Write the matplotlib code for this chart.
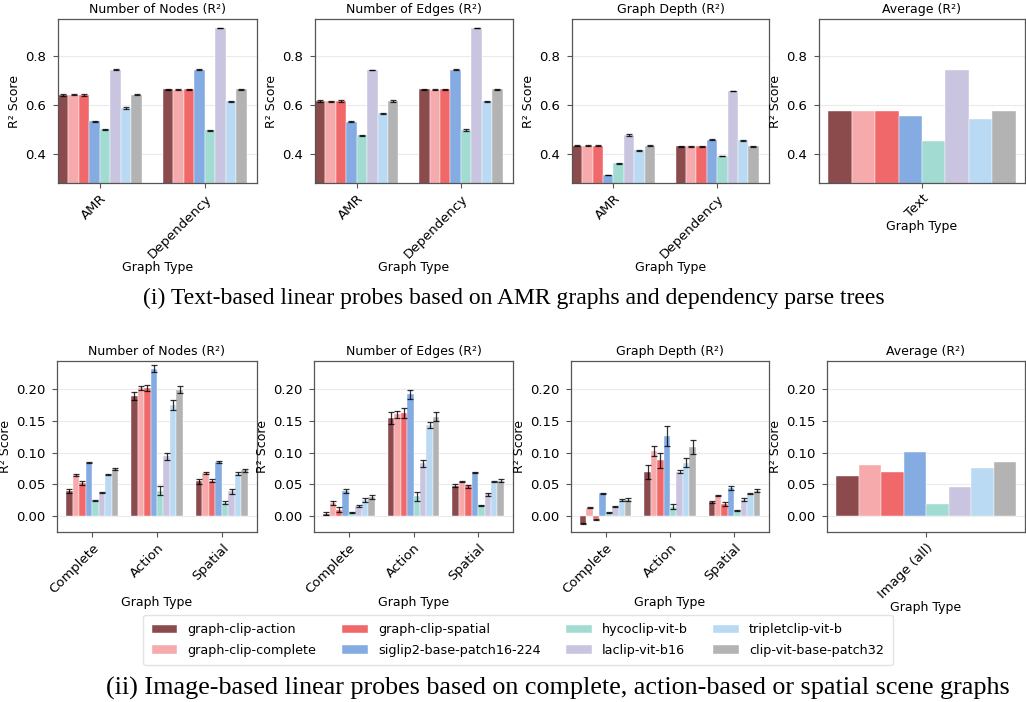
import matplotlib
matplotlib.use("Agg")
import matplotlib.pyplot as plt
import numpy as np

# các mô hình và màu tương ứng
models = ["graph-clip-action", "graph-clip-complete", "graph-clip-spatial", "siglip2-base-patch16-224",
          "hycoclip-vit-b", "laclip-vit-b16", "tripletclip-vit-b", "clip-vit-base-patch32"]
colors = ["#8b4a4c", "#f7aaac", "#f0686a", "#84ace2", "#a2dbd1", "#c9c5e1", "#b9daf2", "#b3b3b3"]

# hàng trên: đồ thị từ văn bản
text_types = ["AMR", "Dependency"]
text_nodes = [[0.641, 0.641, 0.641, 0.533, 0.501, 0.745, 0.587, 0.641],
              [0.664, 0.663, 0.664, 0.745, 0.497, 0.915, 0.614, 0.664]]
text_nodes_err = [[0.003, 0.002, 0.003, 0.003, 0.002, 0.002, 0.003, 0.002],
                  [0.001, 0.001, 0.001, 0.004, 0.002, 0.001, 0.002, 0.001]]
text_edges = [[0.616, 0.615, 0.616, 0.532, 0.476, 0.743, 0.565, 0.616],
              [0.664, 0.663, 0.664, 0.745, 0.497, 0.915, 0.615, 0.664]]
text_edges_err = [[0.003, 0.003, 0.003, 0.003, 0.002, 0.002, 0.002, 0.003],
                  [0.001, 0.001, 0.001, 0.004, 0.003, 0.001, 0.002, 0.001]]
text_depth = [[0.433, 0.433, 0.433, 0.312, 0.360, 0.477, 0.415, 0.433],
              [0.430, 0.430, 0.430, 0.458, 0.390, 0.657, 0.455, 0.430]]
text_depth_err = [[0.002, 0.003, 0.003, 0.001, 0.002, 0.003, 0.002, 0.003],
                  [0.001, 0.001, 0.001, 0.002, 0.001, 0.001, 0.001, 0.001]]
text_avg_label = ["Text"]
text_avg = [0.575, 0.574, 0.575, 0.554, 0.453, 0.742, 0.542, 0.575]

# hàng dưới: scene graph từ ảnh
image_types = ["Complete", "Action", "Spatial"]
image_nodes = [[0.040, 0.065, 0.052, 0.084, 0.024, 0.037, 0.065, 0.074],
               [0.189, 0.201, 0.202, 0.232, 0.040, 0.094, 0.175, 0.199],
               [0.055, 0.068, 0.056, 0.085, 0.021, 0.039, 0.067, 0.072]]
image_nodes_err = [[0.003, 0.002, 0.003, 0.001, 0.001, 0.001, 0.001, 0.001],
                   [0.006, 0.003, 0.005, 0.005, 0.007, 0.005, 0.008, 0.005],
                   [0.004, 0.002, 0.003, 0.002, 0.002, 0.004, 0.002, 0.002]]
image_edges = [[0.004, 0.021, 0.010, 0.040, 0.006, 0.016, 0.025, 0.030],
               [0.154, 0.160, 0.162, 0.192, 0.031, 0.083, 0.143, 0.156],
               [0.048, 0.054, 0.047, 0.069, 0.017, 0.034, 0.054, 0.056]]
image_edges_err = [[0.003, 0.003, 0.004, 0.003, 0.001, 0.001, 0.003, 0.003],
                   [0.009, 0.006, 0.008, 0.007, 0.007, 0.005, 0.005, 0.007],
                   [0.002, 0.001, 0.002, 0.001, 0.001, 0.003, 0.001, 0.002]]
image_depth = [[-0.012, 0.013, -0.005, 0.036, 0.006, 0.015, 0.025, 0.026],
               [0.070, 0.103, 0.088, 0.126, 0.015, 0.070, 0.084, 0.109],
               [0.022, 0.032, 0.019, 0.044, 0.009, 0.026, 0.035, 0.040]]
image_depth_err = [[0.001, 0.001, 0.001, 0.001, 0.001, 0.001, 0.002, 0.002],
                   [0.011, 0.008, 0.012, 0.016, 0.004, 0.002, 0.007, 0.011],
                   [0.002, 0.001, 0.003, 0.003, 0.001, 0.002, 0.001, 0.002]]
image_avg_label = ["Image (all)"]
image_avg = [0.063, 0.080, 0.070, 0.101, 0.019, 0.046, 0.075, 0.085]

titles = ["Number of Nodes (R²)", "Number of Edges (R²)", "Graph Depth (R²)", "Average (R²)"]

plt.rcParams["font.family"] = "DejaVu Sans"
plt.rcParams["font.size"] = 9

fig = plt.figure(figsize=(10.26, 7.02), dpi=100)

W, H = 1026, 702
def px_axes(x0, x1, y0, y1):
    return fig.add_axes([x0 / W, 1 - y1 / H, (x1 - x0) / W, (y1 - y0) / H])


# Hàm vẽ nhóm cột cho một panel
def draw_panel(ax, groups, values, errors, title, ylim, yticks, xlim=None):
    width = 0.1
    x = np.arange(len(groups))
    for i, name in enumerate(models):
        vals = [v[i] for v in values]
        kw = {}
        if errors is not None:
            kw = dict(yerr=[e[i] for e in errors], capsize=2,
                      error_kw=dict(elinewidth=0.9, capthick=0.9, ecolor="black", alpha=0.8))
        ax.bar(x - 0.35 + i * width, vals, width, color=colors[i], edgecolor="white",
               linewidth=0.3, label=name, zorder=2, **kw)
    ax.set_xticks(x)
    ax.set_xticklabels(groups, rotation=45, ha="right", rotation_mode="anchor", fontsize=9.5)
    ax.set_ylim(*ylim)
    ax.set_yticks(yticks)
    if xlim is not None:
        ax.set_xlim(*xlim)
    ax.grid(axis="y", color="#ebebeb", linewidth=0.8, zorder=0)
    ax.set_axisbelow(True)
    ax.set_title(title, fontsize=9, pad=4)
    ax.set_xlabel("Graph Type", fontsize=9, labelpad=0)
    ax.set_ylabel("R² Score", fontsize=9, labelpad=3)
    for s in ax.spines.values():
        s.set_color("#555555")
        s.set_linewidth(0.9)
    ax.tick_params(length=3.5, width=0.8, color="#555555")
    ax.tick_params(axis="y", labelsize=9.5, pad=5)
    ax.tick_params(axis="x", pad=3)


top_ylim = (0.28, 0.952)
top_ticks = [0.4, 0.6, 0.8]
top_axes = [px_axes(58, 257, 19, 183), px_axes(315, 513, 19, 183),
            px_axes(572, 769, 19, 183), px_axes(819, 1025, 19, 183)]
draw_panel(top_axes[0], text_types, text_nodes, text_nodes_err, titles[0], top_ylim, top_ticks, (-0.4, 1.5))
draw_panel(top_axes[1], text_types, text_edges, text_edges_err, titles[1], top_ylim, top_ticks, (-0.4, 1.5))
draw_panel(top_axes[2], text_types, text_depth, text_depth_err, titles[2], top_ylim, top_ticks, (-0.4, 1.5))
draw_panel(top_axes[3], text_avg_label, [text_avg], None, titles[3], top_ylim, top_ticks)

bot_ylim = (-0.025, 0.244)
bot_ticks = [0.0, 0.05, 0.10, 0.15, 0.20]
bot_axes = [px_axes(57, 257, 361, 532), px_axes(314, 513, 361, 532),
            px_axes(571, 769, 361, 532), px_axes(827, 1025, 361, 532)]
draw_panel(bot_axes[0], image_types, image_nodes, image_nodes_err, titles[0], bot_ylim, bot_ticks)
draw_panel(bot_axes[1], image_types, image_edges, image_edges_err, titles[1], bot_ylim, bot_ticks)
draw_panel(bot_axes[2], image_types, image_depth, image_depth_err, titles[2], bot_ylim, bot_ticks)
draw_panel(bot_axes[3], image_avg_label, [image_avg], None, titles[3], bot_ylim, bot_ticks)
for ax in bot_axes:
    ax.set_yticklabels(["0.00", "0.05", "0.10", "0.15", "0.20"])

# chú thích chung
handles, labels = bot_axes[0].get_legend_handles_labels()
fig.legend(handles, labels, ncol=4, fontsize=9.2, loc="center", bbox_to_anchor=(518 / W, 1 - 640 / H),
           frameon=True, edgecolor="#dddddd", fancybox=True, borderpad=0.7, labelspacing=0.55)

fig.text(514 / W, 1 - 298 / H, "(i) Text-based linear probes based on AMR graphs and dependency parse trees",
         ha="center", va="center", fontsize=17, family="Liberation Serif")
fig.text(558 / W, 1 - 688 / H, "(ii) Image-based linear probes based on complete, action-based or spatial scene graphs",
         ha="center", va="center", fontsize=18.8, family="Liberation Serif")

fig.savefig("out.png", dpi=100)
